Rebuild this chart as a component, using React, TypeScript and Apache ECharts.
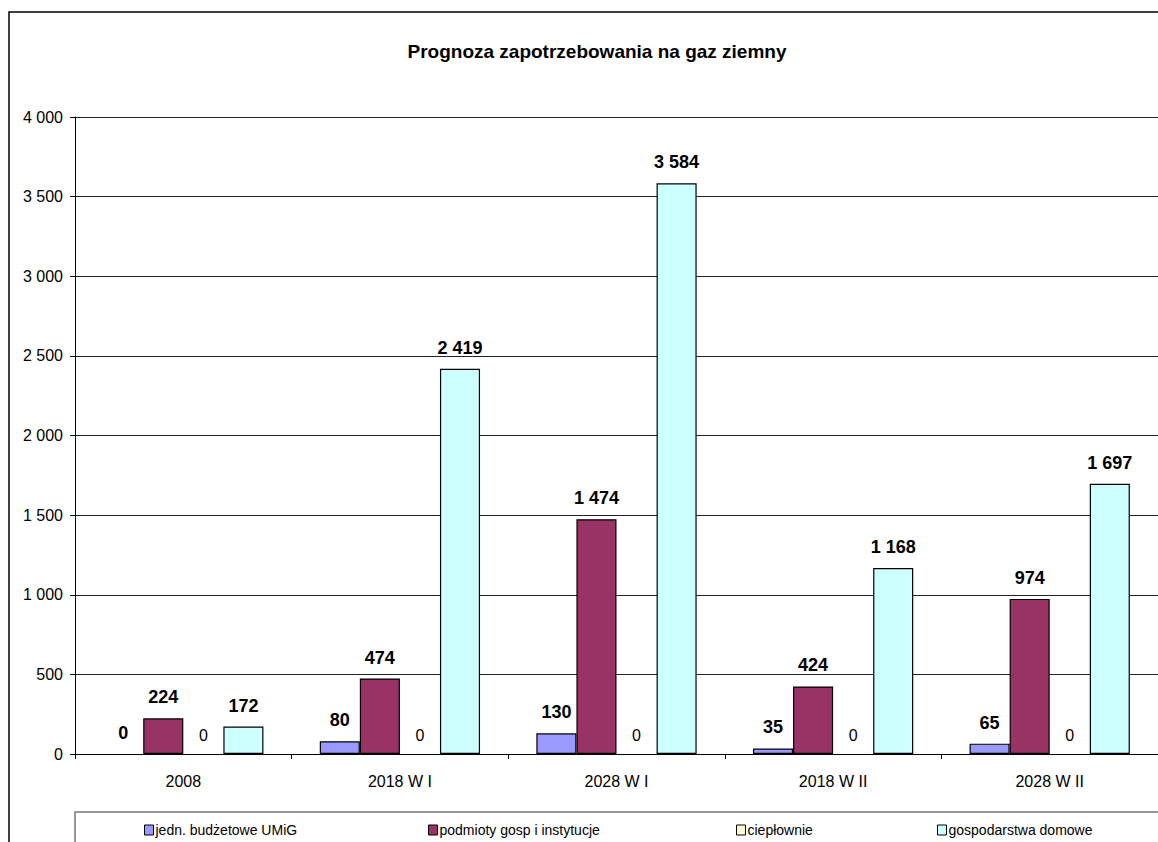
import React, { useEffect, useRef } from "react";
import * as echarts from "echarts";

const categories = ["2008", "2018 W I", "2028 W I", "2018 W II", "2028 W II"];
const seriesNames = ["jedn. budżetowe UMiG", "podmioty gosp i instytucje", "ciepłownie", "gospodarstwa domowe"];
const jedn = [0, 80, 130, 35, 65];
const podmioty = [224, 474, 1474, 424, 974];
const cieplownie = [0, 0, 0, 0, 0];
const gospodarstwa = [172, 2419, 3584, 1168, 1697];
const yTicks = { min: 0, max: 4000, interval: 500 };
const colors = ["#9999FF", "#993366", "#FFFFCC", "#CCFFFF"];
const legendLeft = [139, 423, 731, 932];

const fmt = (v: number) => String(v).replace(/\B(?=(\d{3})+(?!\d))/g, " ");
const FONT = "Liberation Sans, Arial, sans-serif";

export default function App() {
  const ref = useRef<HTMLDivElement>(null);
  useEffect(() => {
    if (!ref.current) return;
    const chart = echarts.init(ref.current, null, { renderer: "svg" });
    const dataSets = [jedn, podmioty, cieplownie, gospodarstwa];
    const series = dataSets.map((d, i) => ({
      name: seriesNames[i],
      type: "bar",
      data: d.map((v) => (v === 0 ? { value: v, itemStyle: { borderWidth: 0 } } : v)),
      barGap: "0%",
      barCategoryGap: "26%",
      itemStyle: { color: colors[i], borderColor: "#000", borderWidth: 1.2 },
      label: {
        show: true,
        position: "top",
        distance: i === 2 ? 11 : 12,
        formatter: (p: any) => fmt(p.value),
        fontFamily: FONT,
        fontSize: i === 2 ? 16 : 18,
        fontWeight: i === 2 ? "normal" : "bold",
        color: "#000",
      },
    }));
    chart.setOption({
      animation: false,
      backgroundColor: "#fff",
      textStyle: { fontFamily: FONT },
      title: {
        text: "Prognoza zapotrzebowania na gaz ziemny",
        left: 592,
        top: 37,
        textAlign: "center",
        textStyle: { fontFamily: FONT, fontSize: 19, fontWeight: "bold", color: "#000" },
      },
      legend: seriesNames.map((n, i) => ({
        data: [n],
        left: legendLeft[i],
        top: 818,
        icon: "rect",
        itemWidth: 9,
        itemHeight: 10,
        itemGap: 4,
        textStyle: { fontFamily: FONT, fontSize: 14, color: "#000", padding: [0, 0, 0, -3] },
        itemStyle: { borderColor: "#000", borderWidth: 1 },
        selectedMode: false,
      })),
      grid: { left: 75, top: 117, width: 1085, height: 637, containLabel: false },
      xAxis: {
        type: "category",
        data: categories,
        axisLine: { lineStyle: { color: "#000", width: 1 } },
        axisTick: { show: true, alignWithLabel: false, length: 5, lineStyle: { color: "#000" } },
        axisLabel: { fontFamily: FONT, fontSize: 16, color: "#000", margin: 19 },
      },
      yAxis: {
        type: "value",
        min: yTicks.min,
        max: yTicks.max,
        interval: yTicks.interval,
        axisLine: { show: true, lineStyle: { color: "#000", width: 1 } },
        axisTick: { show: true, length: 5, lineStyle: { color: "#000" } },
        axisLabel: { fontFamily: FONT, fontSize: 16, color: "#000", margin: 12, formatter: (v: number) => fmt(v) },
        splitLine: { show: true, lineStyle: { color: "#222", width: 1 } },
      },
      graphic: [
        { type: "rect", shape: { x: 9, y: 12, width: 1300, height: 1000 }, style: { fill: "none", stroke: "#000", lineWidth: 1.5 }, z: 100 },
        { type: "rect", shape: { x: 75, y: 812, width: 1300, height: 200 }, style: { fill: "none", stroke: "#777", lineWidth: 1.5 }, z: 100 },
      ],
      series,
    });
    return () => chart.dispose();
  }, []);
  return <div ref={ref} style={{ position: "fixed", left: 0, top: 0, width: 1158, height: 842 }} />;
}
